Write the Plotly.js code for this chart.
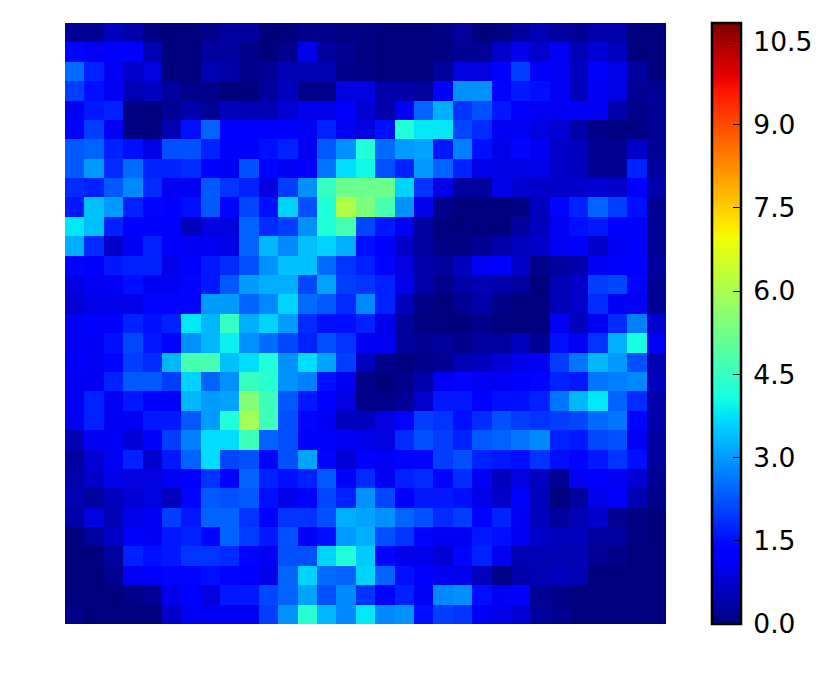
<!DOCTYPE html>
<html>
<head>
<meta charset="utf-8">
<script src="https://cdn.plot.ly/plotly-3.0.1.min.js"></script>
<style>
html, body { margin: 0; padding: 0; background: #fff; }
</style>
</head>
<body>
<div id="myDiv"></div>
<script>
// Density grid, top row first
const gridValues = [
  [0.2,0.2,0.6,0.4,0.05,0,0,0.1,0.3,0.3,0,0,0.1,0.1,0.05,0.05, 0,0,0,0.05,0.3,0,0.05,0.3,0.5,0.3,0.2,0.4,0.4,0,0],
  [1.4,1.1,1.2,1.2,0.5,0,0,0.3,0.3,0.1,0,0.1,1.0,0.3,0.2,0.05, 0,0,0,0.05,0.2,0.2,0.7,1.0,0.7,1.1,0.5,0.8,0.6,0,0],
  [2.5,1.7,1.1,0.7,0.9,0,0,0.5,0.4,0.1,0.2,0.5,0.5,0.5,0.1,0.1, 0,0,0,0.3,0.9,0.9,1.2,2.0,1.2,1.1,0.6,1.2,1.0,0.3,0],
  [2.0,1.5,1.1,0.5,0.6,0.3,0.1,0.1,0,0,0.3,0.6,0.1,0.1,0.9,0.9, 0.4,0.4,0.3,1.3,2.9,2.9,1.4,1.6,1.5,1.1,0.6,1.1,0.9,0.2,0.2],
  [1.1,1.6,1.7,0.05,0,0.2,0.4,0.2,0.6,0.5,0.5,0.8,1.0,1.0,1.2,0.8, 0.4,1.1,2.4,3.2,1.9,2.2,1.6,1.3,1.1,1.1,1.1,1.1,0.4,0.1,0.2],
  [1.4,2.0,1.1,0.05,0,0.5,1.5,2.4,1.3,1.2,1.2,1.2,1.1,1.7,1.1,0.9, 1.5,4.2,3.8,3.8,2.1,1.8,1.1,1.1,0.9,0.8,0.4,0.1,0.05,0.05,0.2],
  [2.3,2.4,1.7,1.5,1.0,2.2,2.2,1.7,1.2,1.2,1.5,1.7,1.1,2.3,2.9,4.2, 2.5,3.0,3.1,1.6,2.7,1.5,1.0,1.4,1.1,0.7,0.6,0.2,0.2,0.7,0.2],
  [2.3,3.0,1.8,2.5,1.7,1.7,1.8,1.3,1.1,2.2,1.4,1.1,1.2,2.6,3.7,4.0, 2.2,1.7,3.0,2.4,1.7,1.0,0.9,0.9,1.0,0.7,0.6,0.2,0.2,1.7,0.3],
  [1.8,1.7,2.3,2.8,1.8,1.1,1.1,2.3,1.9,1.7,0.9,2.0,2.9,4.5,5.2,5.2, 5.2,3.6,1.9,1.0,0.3,0.3,1.0,0.8,0.7,0.7,0.7,0.8,0.7,1.3,0.4],
  [1.6,3.4,3.0,1.7,1.4,1.2,1.5,2.3,1.4,2.1,1.5,3.6,2.2,4.2,6.1,5.4, 4.7,2.9,1.0,0.1,0,0,0,0.05,0.6,1.4,1.7,2.4,2.0,1.5,0.2],
  [3.8,3.4,1.7,1.3,1.2,1.2,0.6,0.9,0.9,2.4,1.8,2.0,2.9,4.2,4.7,2.1, 1.6,1.1,0.3,0,0,0,0,0.3,0.6,1.1,1.5,1.6,1.2,1.3,0.2],
  [3.2,1.8,0.7,1.1,1.7,1.3,1.1,1.1,1.0,2.4,3.3,2.8,3.4,3.6,3.2,1.5, 1.3,0.7,0.3,0.05,0.05,0.2,0.4,0.6,0.7,1.1,1.3,0.7,1.1,1.2,0.2],
  [1.4,1.2,1.6,1.7,1.7,1.0,1.3,1.6,1.8,2.2,2.9,3.4,3.4,2.5,1.9,1.7, 1.4,0.9,0.4,0.3,0.6,1.1,1.2,0.7,0.1,0.3,0.4,1.1,1.3,1.3,0.3],
  [0.9,1.1,1.1,1.5,1.1,1.1,1.4,1.6,2.3,3.0,3.2,3.2,2.1,3.1,2.0,1.9, 1.7,1.0,0.4,0.1,0.4,0.5,0.4,0.3,0,0.5,0.7,2.0,2.1,1.4,0.2],
  [0.8,1.0,1.0,1.0,1.4,1.4,1.4,3.0,3.0,2.4,2.8,3.6,2.5,2.3,1.8,2.8, 1.7,0.6,0.1,0,0.2,0.4,0.1,0,0,0.5,0.7,1.8,1.1,1.1,0.2],
  [1.1,1.3,1.2,1.7,1.5,1.7,3.8,3.3,4.5,3.2,3.6,3.0,1.8,1.5,1.5,1.7, 1.0,0.3,0.05,0,0,0.1,0,0,0,1.1,0.6,1.1,1.8,2.7,0.8],
  [1.1,1.1,1.5,2.1,1.6,1.4,2.9,3.3,3.9,2.9,2.5,2.1,1.7,2.2,1.9,1.1, 1.1,0.3,0.2,0.3,0.1,0.3,0.3,0.6,0.2,1.5,1.1,1.9,3.2,4.1,1.1],
  [1.2,1.1,1.4,2.0,1.8,3.3,4.7,4.7,3.4,3.7,4.2,2.9,3.7,3.1,2.0,0.6, 0.1,0,0.1,0.2,0.5,0.6,0.8,1.0,1.1,2.0,2.6,3.3,3.0,2.2,0.5],
  [1.1,1.1,1.7,2.3,2.3,2.0,3.6,2.4,2.9,4.5,4.3,2.9,2.7,1.5,1.1,0.1, 0,0.1,0.4,1.1,1.4,1.1,1.1,1.3,1.4,1.7,1.6,2.6,2.7,2.8,0.6],
  [1.1,1.7,1.1,1.6,1.2,1.2,3.3,3.0,3.1,5.5,4.6,2.3,1.6,1.2,0.9,0.1, 0.1,0.2,0.7,1.6,1.6,1.3,1.5,1.5,1.7,2.6,3.3,3.8,2.4,1.8,0.4],
  [1.1,1.7,1.1,1.1,1.6,1.6,2.3,3.0,4.2,5.9,4.6,2.2,1.4,1.1,0.6,0.6, 0.9,1.2,2.0,1.9,1.5,1.8,2.2,2.0,1.9,2.0,2.1,2.5,2.6,1.4,0.4],
  [0.5,1.1,1.1,0.8,1.3,2.0,2.7,3.7,3.7,4.6,2.4,2.2,1.3,1.2,1.1,1.0, 0.9,1.8,2.2,2.0,1.7,2.3,2.4,2.6,2.8,1.7,1.6,2.1,2.2,1.1,0.3],
  [0.3,0.8,1.1,1.7,0.7,1.6,2.4,3.7,2.1,2.2,1.4,2.2,3.1,1.4,0.8,1.3, 1.1,1.4,1.4,2.0,2.2,1.7,1.6,1.5,1.9,1.5,1.4,1.6,1.9,1.5,0.3],
  [0.4,0.7,1.0,0.9,0.9,1.1,1.2,1.9,1.4,2.4,1.7,1.5,1.7,2.3,1.2,1.8, 1.1,1.7,1.8,1.4,1.8,1.1,0.6,0.9,0.6,0.2,1.1,1.3,1.1,0.8,0.2],
  [0.5,0.3,0.6,0.8,0.9,0.6,1.4,2.3,2.2,2.3,1.5,1.0,1.3,2.1,1.7,2.9, 2.1,1.3,1.6,1.6,1.5,1.0,0.7,1.3,0.6,0,0.3,1.0,1.2,0.5,0.1],
  [0.4,0.9,0.5,1.0,1.1,2.0,1.6,2.4,2.4,1.9,1.3,1.9,1.9,2.2,3.2,3.1, 2.9,2.4,2.2,1.8,2.0,1.4,1.7,1.1,0.6,0.3,0.5,0.7,0.2,0.05,0],
  [0,0.3,0.7,1.2,1.1,1.6,1.7,1.4,2.4,2.0,1.6,2.2,1.1,1.5,3.0,3.2, 2.2,1.9,1.4,1.1,1.1,1.6,1.5,1.1,0.7,0.6,0.6,0.3,0.3,0.05,0],
  [0,0,0.3,1.7,1.5,1.6,1.9,1.9,1.8,1.4,1.1,2.2,2.2,3.6,4.2,3.5, 1.4,1.0,1.0,0.8,1.4,1.7,1.1,0.5,0.5,0.5,0.5,0.2,0.1,0,0],
  [0,0,0.2,1.1,1.3,1.4,1.4,1.5,1.4,1.3,1.0,2.4,3.6,2.5,2.4,3.6, 2.4,1.5,1.3,1.1,1.0,0.6,0.1,0.4,0.5,0.6,0.5,0,0,0,0],
  [0,0,0,0.1,0.2,1.0,1.3,0.9,1.6,1.6,2.1,2.4,3.1,2.2,2.8,1.9, 1.3,1.7,1.1,2.8,2.9,1.5,1.1,1.2,0.2,0.1,0,0,0,0,0],
  [0.1,0,0,0,0,0.7,1.1,1.1,1.1,1.1,2.0,2.9,4.3,3.3,2.8,3.8, 2.8,2.9,1.5,2.0,1.9,1.1,1.0,0.8,0.3,0.2,0,0,0,0,0]
];
const colorTicks = [0, 1.5, 3, 4.5, 6, 7.5, 9, 10.5];
// thin space in front pushes the labels off the bar a little
const colorTickLabels = ['\u20090.0', '\u20091.5', '\u20093.0', '\u20094.5', '\u20096.0', '\u20097.5', '\u20099.0', '\u200910.5'];
const zMax = 10.83;

// matplotlib jet
const jet = [
  [0, 'rgb(0,0,127)'],
  [0.11, 'rgb(0,0,255)'],
  [0.125, 'rgb(0,0,255)'],
  [0.34, 'rgb(0,219,255)'],
  [0.35, 'rgb(0,230,247)'],
  [0.375, 'rgb(21,255,226)'],
  [0.64, 'rgb(239,255,8)'],
  [0.65, 'rgb(247,246,0)'],
  [0.66, 'rgb(255,236,0)'],
  [0.89, 'rgb(255,19,0)'],
  [0.91, 'rgb(232,0,0)'],
  [1, 'rgb(127,0,0)']
];

const trace = {
  type: 'heatmap',
  z: gridValues,
  zmin: 0,
  zmax: zMax,
  zsmooth: false,
  colorscale: jet,
  hoverinfo: 'skip',
  colorbar: {
    x: 1.0765,
    xanchor: 'left',
    xpad: 0,
    y: 1,
    yanchor: 'top',
    ypad: 0,
    len: 1,
    thickness: 29,
    outlinewidth: 2.5,
    outlinecolor: '#000',
    tickmode: 'array',
    tickvals: colorTicks,
    ticktext: colorTickLabels,
    ticks: 'inside',
    ticklen: 9,
    tickwidth: 1,
    tickcolor: '#000',
    tickfont: { family: 'DejaVu Sans', size: 26.5, color: '#000' }
  }
};

const hiddenAxis = {
  showticklabels: false,
  showgrid: false,
  zeroline: false,
  showline: false,
  ticks: ''
};

const layout = {
  width: 832,
  height: 681,
  margin: { l: 65, r: 166, t: 23, b: 57, autoexpand: false },
  paper_bgcolor: '#fff',
  plot_bgcolor: '#fff',
  xaxis: hiddenAxis,
  yaxis: Object.assign({}, hiddenAxis, { autorange: 'reversed' })
};

Plotly.newPlot('myDiv', [trace], layout, { displayModeBar: false });
</script>
</body>
</html>
